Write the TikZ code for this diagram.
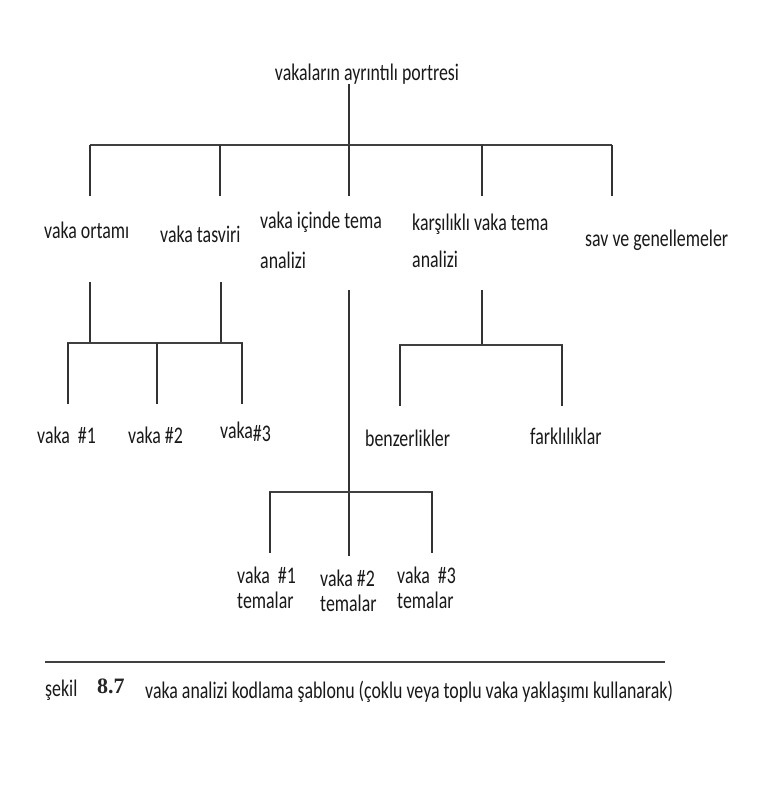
\documentclass[tikz,border=0pt]{standalone}
\usepackage{fontspec}
\setmainfont{Carlito}[FakeStretch=0.75]
\newfontfamily\numfont{Liberation Serif}
\begin{document}
\begin{tikzpicture}[x=1pt,y=-1pt,
  lbl/.style={font=\fontsize{23.8}{25}\selectfont, inner sep=0pt, text=black!90, align=left},
  ln/.style={draw=black!80, line width=1.1pt},
  bar/.style={draw=black!75, line width=1.8pt}]
\useasboundingbox[fill=white] (0,0) rectangle (757,800);
% top
\node[lbl] (root) at (367,74) {vakaların ayrıntılı portresi};
\coordinate (r0) at (349,84);
\coordinate (rb) at (349,145);
\coordinate (bL) at (90,145);
\coordinate (bR) at (612,145);
\coordinate (d1) at (90,145); \coordinate (d1e) at (90,196);
\coordinate (d2) at (220,145); \coordinate (d2e) at (220,196);
\coordinate (d3) at (349,145); \coordinate (d3e) at (349,196);
\coordinate (d4) at (482,145); \coordinate (d4e) at (482,196);
\coordinate (d5) at (612,145); \coordinate (d5e) at (612,196);
\draw[ln] (r0) -- (rb);
\draw[bar] (bL) -- (bR);
\foreach \i in {1,...,5} \draw[ln] (d\i) -- (d\i e);
% level 2 labels
\node[lbl,anchor=west] (ortam) at (44,230) {vaka ortamı};
\node[lbl,anchor=west] (tasvir) at (160,234) {vaka tasviri};
\node[lbl,anchor=north west,font=\fontsize{23.8}{40}\selectfont] (icinde) at (260,212) {vaka içinde tema\\analizi};
\node[lbl,anchor=north west,font=\fontsize{23.8}{37}\selectfont] (karsi) at (412,214) {karşılıklı vaka tema\\analizi};
\node[lbl,anchor=west] (sav) at (585,240) {sav ve genellemeler};
% left subtree
\coordinate (o1) at (90,282); \coordinate (o2) at (90,343);
\coordinate (t1) at (221,282); \coordinate (t2) at (221,343);
\draw[ln] (o1) -- (o2);
\draw[ln] (t1) -- (t2);
\draw[bar] (67,343) -- (243,343);
\coordinate (v1a) at (68,343); \coordinate (v1b) at (68,404);
\coordinate (v2a) at (157,343); \coordinate (v2b) at (157,404);
\coordinate (v3a) at (242,343); \coordinate (v3b) at (242,404);
\draw[ln] (v1a) -- (v1b);
\draw[ln] (v2a) -- (v2b);
\draw[ln] (v3a) -- (v3b);
\node[lbl,anchor=west] (c1) at (37,435) {vaka \,\#1};
\node[lbl,anchor=west] (c2) at (128,435) {vaka \#2};
\node[lbl,anchor=west] (c3) at (220,432) {vaka\raisebox{-3pt}{\#3}};
% middle subtree
\coordinate (m1) at (349,290); \coordinate (m2) at (349,556);
\draw[ln] (m1) -- (m2);
\draw[bar] (269,492) -- (433,492);
\coordinate (w1a) at (270,492); \coordinate (w1b) at (270,553);
\coordinate (w3a) at (432,492); \coordinate (w3b) at (432,553);
\draw[ln] (w1a) -- (w1b);
\draw[ln] (w3a) -- (w3b);
\node[lbl,anchor=north west] (t1n) at (237,567) {vaka \,\#1\\temalar};
\node[lbl,anchor=north west] (t2n) at (320,570) {vaka \#2\\temalar};
\node[lbl,anchor=north west] (t3n) at (397,567) {vaka \,\#3\\temalar};
% right subtree
\coordinate (k1) at (482,290); \coordinate (k2) at (482,345);
\draw[ln] (k1) -- (k2);
\draw[bar] (399,345) -- (563,345);
\coordinate (b1a) at (400,345); \coordinate (b1b) at (400,406);
\coordinate (b2a) at (562,345); \coordinate (b2b) at (562,406);
\draw[ln] (b1a) -- (b1b);
\draw[ln] (b2a) -- (b2b);
\node[lbl,anchor=west] (benz) at (365,438) {benzerlikler};
\node[lbl,anchor=west] (fark) at (530,436) {farklılıklar};
% caption
\coordinate (hl) at (45,662); \coordinate (hr) at (665,662);
\draw[draw=black!75, line width=2.2pt] (hl) -- (hr);
\node[lbl,anchor=west] (sek) at (45,690) {şekil};
\node[anchor=west,inner sep=0pt,font=\numfont\bfseries\fontsize{22}{24}\selectfont,text=black!85] (num) at (97,686) {8.7};
\node[lbl,anchor=west] (cap) at (145,692) {vaka analizi kodlama şablonu (çoklu veya toplu vaka yaklaşımı kullanarak)};
\end{tikzpicture}
\end{document}
